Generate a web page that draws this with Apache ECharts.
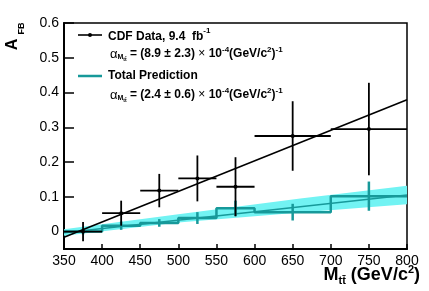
<!DOCTYPE html>
<html><head><meta charset="utf-8">
<script src="https://cdn.jsdelivr.net/npm/echarts@6/dist/echarts.min.js"></script>
<style>html,body{margin:0;padding:0;background:#fff}#c{width:429px;height:291px}</style>
</head><body><div id="c"></div>
<script>
// Bins (GeV/c^2)
var binLow = [350, 400, 450, 500, 550, 600, 700];
var binHigh = [400, 450, 500, 550, 600, 700, 800];
var binCenter = [375, 425, 475, 525, 575, 650, 750];
// CDF data
var cdfValue = [0.0, 0.053, 0.118, 0.153, 0.129, 0.275, 0.295];
var cdfError = [0.028, 0.036, 0.048, 0.066, 0.085, 0.10, 0.133];
// Total prediction histogram
var predValue = [0.0, 0.017, 0.025, 0.039, 0.067, 0.056, 0.102];
var predError = [0.008, 0.012, 0.011, 0.017, 0.022, 0.024, 0.042];
// Fit lines (endpoints)
var fitX = [350, 800];
var cdfFitY = [-0.016, 0.379];
var predFitY = [-0.003, 0.105];
// Prediction band edges
var bandX = [350, 500, 660, 800];
var bandUpper = [0.007, 0.050, 0.095, 0.132];
var bandLower = [-0.012, 0.026, 0.055, 0.079];
// Axis ticks
var xTicks = [350, 400, 450, 500, 550, 600, 650, 700, 750, 800];
var yTicks = [0, 0.1, 0.2, 0.3, 0.4, 0.5, 0.6];

var TEAL = '#17999a';
var CYAN = '#72f3f3';
var FONT = 'Liberation Sans';

var chart = echarts.init(document.getElementById('c'), null, {renderer: 'canvas'});

var stepData = [];
for (var i = 0; i < binLow.length; i++) stepData.push([binLow[i], predValue[i]]);
stepData.push([binHigh[binHigh.length - 1], predValue[predValue.length - 1]]);

var bandPoly = [];
for (var i = 0; i < bandX.length; i++) bandPoly.push([bandX[i], bandUpper[i]]);
for (var i = bandX.length - 1; i >= 0; i--) bandPoly.push([bandX[i], bandLower[i]]);

function errData(vals, errs) {
  return binCenter.map(function (c, i) { return [c, vals[i], errs[i], binLow[i], binHigh[i]]; });
}

function richAlpha() {
  return {
    a: {fontFamily: FONT, fontSize: 13, lineHeight: 16, verticalAlign: 'middle'},
    m: {fontFamily: FONT, fontWeight: 'bold', fontSize: 7, lineHeight: 16, verticalAlign: 'bottom', padding: [0, 0, 1, 0]},
    t: {fontFamily: FONT, fontWeight: 'bold', fontSize: 5, lineHeight: 16, verticalAlign: 'bottom'},
    b: {fontFamily: FONT, fontWeight: 'bold', fontSize: 12, lineHeight: 16, verticalAlign: 'middle'},
    x: {fontFamily: FONT, fontSize: 12, lineHeight: 16, verticalAlign: 'middle'},
    s: {fontFamily: FONT, fontWeight: 'bold', fontSize: 8, lineHeight: 16, verticalAlign: 'top', padding: [0, 0, 0, 0]}
  };
}

var option = {
  animation: false,
  grid: {left: 64, right: 22, top: 23, bottom: 42, show: true, borderColor: '#000', borderWidth: 1.5, backgroundColor: 'transparent'},
  xAxis: {
    type: 'value', min: 350, max: 800, interval: 50,
    splitLine: {show: false},
    axisLine: {show: true, onZero: false, lineStyle: {color: '#000', width: 2}},
    axisTick: {show: true, inside: true, length: 5, lineStyle: {color: '#000', width: 1.5}},
    axisLabel: {color: '#000', fontFamily: FONT, fontSize: 14, margin: 5, showMinLabel: true, showMaxLabel: true}
  },
  yAxis: {
    type: 'value', min: -0.05, max: 0.6,
    splitLine: {show: false},
    axisLine: {show: true, onZero: false, lineStyle: {color: '#000', width: 2}},
    axisTick: {show: true, inside: true, length: 10, customValues: yTicks, lineStyle: {color: '#000', width: 1.5}},
    axisLabel: {color: '#000', fontFamily: FONT, fontSize: 14, margin: 5, customValues: yTicks,
      formatter: function (v) { return Math.abs(v) < 1e-9 ? '0' : v.toFixed(1); }}
  },
  series: [
    {
      type: 'custom', silent: true, z: 1,
      data: [0],
      renderItem: function (params, api) {
        var pts = bandPoly.map(function (p) { return api.coord(p); });
        return {type: 'polygon', shape: {points: pts}, style: {fill: CYAN, stroke: 'none'}};
      }
    },
    {
      type: 'line', data: stepData, step: 'end', symbol: 'none', z: 2,
      lineStyle: {color: TEAL, width: 2.5}
    },
    {
      type: 'line', data: fitX.map(function (x, i) { return [x, predFitY[i]]; }), symbol: 'none', z: 3,
      lineStyle: {color: TEAL, width: 1.5}
    },
    {
      type: 'custom', z: 4, data: errData(predValue, predError),
      renderItem: function (params, api) {
        var t = api.coord([api.value(0), api.value(1) + api.value(2)]);
        var b = api.coord([api.value(0), api.value(1) - api.value(2)]);
        return {type: 'line', shape: {x1: t[0], y1: t[1], x2: b[0], y2: b[1]}, style: {stroke: TEAL, lineWidth: 2.5}};
      }
    },
    {
      type: 'line', data: fitX.map(function (x, i) { return [x, cdfFitY[i]]; }), symbol: 'none', z: 5,
      lineStyle: {color: '#000', width: 1.6}
    },
    {
      type: 'custom', z: 6, data: errData(cdfValue, cdfError),
      renderItem: function (params, api) {
        var t = api.coord([api.value(0), api.value(1) + api.value(2)]);
        var b = api.coord([api.value(0), api.value(1) - api.value(2)]);
        var l = api.coord([api.value(3), api.value(1)]);
        var r = api.coord([api.value(4), api.value(1)]);
        var c = api.coord([api.value(0), api.value(1)]);
        return {type: 'group', children: [
          {type: 'line', shape: {x1: t[0], y1: t[1], x2: b[0], y2: b[1]}, style: {stroke: '#000', lineWidth: 1.8}},
          {type: 'line', shape: {x1: l[0], y1: l[1], x2: r[0], y2: r[1]}, style: {stroke: '#000', lineWidth: 1.8}},
          {type: 'circle', shape: {cx: c[0], cy: c[1], r: 2}, style: {fill: '#000'}}
        ]};
      }
    }
  ],
  graphic: [
    {type: 'line', shape: {x1: 78, y1: 35, x2: 102, y2: 35}, style: {stroke: '#000', lineWidth: 1.6}},
    {type: 'circle', shape: {cx: 90, cy: 35, r: 2}, style: {fill: '#000'}},
    {type: 'text', x: 108, y: 35, style: {
      text: '{b|CDF Data, 9.4  fb}{s|-1}', verticalAlign: 'middle',
      rich: {b: {fontFamily: FONT, fontWeight: 'bold', fontSize: 12, lineHeight: 16, verticalAlign: 'bottom'},
             s: {fontFamily: FONT, fontWeight: 'bold', fontSize: 8, lineHeight: 16, verticalAlign: 'top'}}}},
    {type: 'text', x: 110, y: 54, style: {
      text: '{a|α}{m|M}{t|tt̄}{b| = (8.9 ± 2.3)}{x| × }{b|10}{s|-4}{b|(GeV/c}{s|2}{b|)}{s|-1}', verticalAlign: 'middle',
      rich: richAlpha()}},
    {type: 'line', shape: {x1: 78, y1: 76, x2: 102, y2: 76}, style: {stroke: TEAL, lineWidth: 2.5}},
    {type: 'text', x: 108, y: 76, style: {
      text: 'Total Prediction', verticalAlign: 'middle', fontFamily: FONT, fontWeight: 'bold', fontSize: 12, fill: '#000'}},
    {type: 'text', x: 110, y: 95, style: {
      text: '{a|α}{m|M}{t|tt̄}{b| = (2.4 ± 0.6)}{x| × }{b|10}{s|-4}{b|(GeV/c}{s|2}{b|)}{s|-1}', verticalAlign: 'middle',
      rich: richAlpha()}},
    {type: 'text', x: 420, y: 275, style: {
      text: '{b|M}{t|tt̄}{b| (GeV/c}{s|2}{b|)}', align: 'right', verticalAlign: 'middle',
      rich: {b: {fontFamily: FONT, fontWeight: 'bold', fontSize: 18, lineHeight: 22, verticalAlign: 'middle'},
             t: {fontFamily: FONT, fontWeight: 'bold', fontSize: 11, lineHeight: 22, verticalAlign: 'bottom'},
             s: {fontFamily: FONT, fontWeight: 'bold', fontSize: 11, lineHeight: 22, verticalAlign: 'top'}}}},
    {type: 'text', x: 13, y: 44.5, rotation: Math.PI / 2, style: {
      text: 'A', align: 'center', verticalAlign: 'middle', fontFamily: FONT, fontWeight: 'bold', fontSize: 16, fill: '#000'}},
    {type: 'text', x: 21.5, y: 28.5, rotation: Math.PI / 2, style: {
      text: 'FB', align: 'center', verticalAlign: 'middle', fontFamily: FONT, fontWeight: 'bold', fontSize: 9, fill: '#000'}}
  ]
};

chart.setOption(option);
</script>
</body></html>
